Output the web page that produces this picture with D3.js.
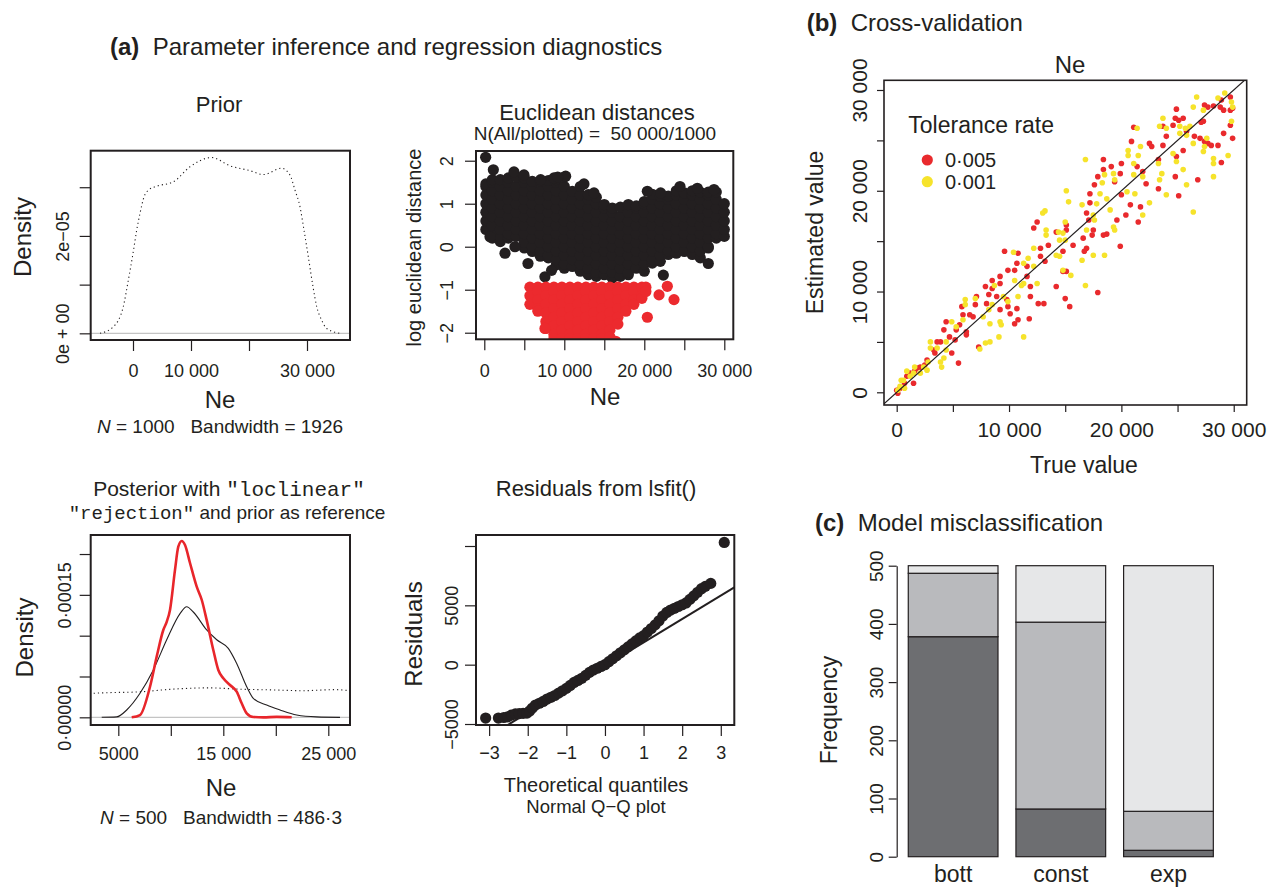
<!DOCTYPE html>
<html><head><meta charset="utf-8">
<script src="https://cdn.jsdelivr.net/npm/d3@7"></script>
<style>
body{margin:0;background:#fff;}
svg{display:block;}
text{fill:#231f20;white-space:pre;}
</style></head><body>
<svg id="chart" width="1276" height="889"></svg>
<script>
// ===================== DATA =====================
// (a) Prior density of Ne
const priorNe = [-5690,-3390,-1670,-810,0,640,1200,1900,2640,4080,6950,9830,13560,16720,20170,22470,25630,27070,27930,28790,29480,30230,31030,31670,32530,33390,35690];
const priorDensity = [0,0.135e-5,0.55e-5,1.09e-5,1.64e-5,2.12e-5,2.46e-5,2.8e-5,2.94e-5,3.02e-5,3.11e-5,3.42e-5,3.61e-5,3.44e-5,3.34e-5,3.26e-5,3.39e-5,3.25e-5,2.94e-5,2.6e-5,2.12e-5,1.57e-5,0.96e-5,0.55e-5,0.27e-5,0.1e-5,0];
const priorXTicks = [0,10000,20000,30000];
const priorXLabels = ["0","10 000","","30 000"];
const priorYTicks = [0,1e-5,2e-5,3e-5];
const priorYLabels = ["0e + 00","","2e\u221205",""];

// (a) Euclidean distances: black = all simulations plotted, red = accepted (columns: Ne, list of log distances)
const eucBlackCols = [
 [200,[0.40,0.60,0.80,1.00,1.20,1.40,1.46]],
 [1000,[0.20,0.30,0.50,0.70,0.90,1.10,1.30,1.50,1.56]],
 [2000,[0.12,0.20,0.40,0.60,0.80,1.00,1.20,1.40,1.56]],
 [3000,[0.20,0.30,0.50,0.70,0.90,1.10,1.30,1.50,1.60]],
 [4000,[0.24,0.40,0.60,0.80,1.00,1.20,1.40,1.62]],
 [5000,[-0.03,0.10,0.30,0.50,0.70,0.90,1.10,1.30,1.50,1.60]],
 [6000,[-0.11,0.00,0.20,0.40,0.60,0.80,1.00,1.20,1.40,1.52]],
 [7000,[-0.22,-0.10,0.10,0.30,0.50,0.70,0.90,1.10,1.30,1.52]],
 [8000,[-0.26,-0.20,0.00,0.20,0.40,0.60,0.80,1.00,1.20,1.40,1.54]],
 [9000,[-0.42,-0.30,-0.10,0.10,0.30,0.50,0.70,0.90,1.10,1.30,1.50,1.56]],
 [10000,[-0.50,-0.40,-0.20,0.00,0.20,0.40,0.60,0.80,1.00,1.20,1.40,1.62]],
 [11000,[-0.46,-0.30,-0.10,0.10,0.30,0.50,0.70,0.90,1.10,1.29]],
 [12000,[-0.57,-0.40,-0.20,0.00,0.20,0.40,0.60,0.80,1.00,1.20,1.40]],
 [13000,[-0.65,-0.50,-0.30,-0.10,0.10,0.30,0.50,0.70,0.90,1.10,1.21]],
 [14000,[-0.69,-0.60,-0.40,-0.20,0.00,0.20,0.40,0.60,0.80,1.00,1.15]],
 [15000,[-0.65,-0.50,-0.30,-0.10,0.10,0.30,0.50,0.70,0.90,0.98]],
 [16000,[-0.73,-0.60,-0.40,-0.20,0.00,0.20,0.40,0.60,0.80,0.90]],
 [17000,[-0.69,-0.50,-0.30,-0.10,0.10,0.30,0.50,0.70,0.92]],
 [18000,[-0.65,-0.60,-0.40,-0.20,0.00,0.20,0.40,0.60,0.80,0.98]],
 [19000,[-0.50,-0.30,-0.10,0.10,0.30,0.50,0.70,0.90,0.95]],
 [20000,[-0.57,-0.40,-0.20,0.00,0.20,0.40,0.60,0.80,1.00,1.05]],
 [21000,[-0.38,-0.30,-0.10,0.10,0.30,0.50,0.70,0.90,1.10,1.22]],
 [22000,[-0.34,-0.20,0.00,0.20,0.40,0.60,0.80,1.00,1.17]],
 [23000,[-0.18,-0.10,0.10,0.30,0.50,0.70,0.90,1.10,1.18]],
 [24000,[-0.15,0.00,0.20,0.40,0.60,0.80,1.00,1.20,1.30]],
 [25000,[-0.11,0.10,0.30,0.50,0.70,0.90,1.10,1.25]],
 [26000,[-0.18,0.00,0.20,0.40,0.60,0.80,1.00,1.20,1.30]],
 [27000,[-0.26,-0.10,0.10,0.30,0.50,0.70,0.90,1.10,1.27]],
 [28000,[-0.03,0.00,0.20,0.40,0.60,0.80,1.00,1.20,1.27]],
 [29000,[0.20,0.30,0.50,0.70,0.90,1.10,1.27]],
 [30000,[0.24,0.40,0.60,0.80,1.00]]
];
const eucBlackExtra = [[170,2.08],[1130,1.79],[710,0.23],[2590,-0.15],[3830,0.0],[3710,1.74],[4960,1.67],[7040,1.56],[8710,1.60],[10170,1.64],[5460,-0.39],[7580,-0.70],[8410,-0.55],[9170,1.62],[12460,1.46],[13710,1.25],[20380,1.29],[22040,1.25],[22380,-0.66],[24460,1.40],[26630,1.36],[28710,1.33],[28000,-0.39]];
const eucRedCols = [
 [5700,[-0.94,-1.14,-1.34]],
 [6700,[-0.94,-1.04,-1.24,-1.44,-1.50]],
 [7700,[-0.94,-1.14,-1.34,-1.54,-1.74,-1.90]],
 [8700,[-0.94,-1.04,-1.24,-1.44,-1.64,-1.84,-2.04,-2.14]],
 [9700,[-0.94,-1.14,-1.34,-1.54,-1.74,-1.94,-2.14]],
 [10700,[-0.94,-1.04,-1.24,-1.44,-1.64,-1.84,-2.04,-2.14]],
 [11700,[-0.94,-1.14,-1.34,-1.54,-1.74,-1.94,-2.14]],
 [12700,[-0.94,-1.04,-1.24,-1.44,-1.64,-1.84,-2.04,-2.14]],
 [13700,[-0.94,-1.14,-1.34,-1.54,-1.74,-1.94,-2.14]],
 [14700,[-0.94,-1.04,-1.24,-1.44,-1.64,-1.84,-2.04,-2.14]],
 [15700,[-0.94,-1.14,-1.34,-1.54,-1.74,-1.94,-2.10]],
 [16700,[-0.94,-1.04,-1.24,-1.44,-1.64,-1.80]],
 [17700,[-0.94,-1.14,-1.34,-1.50]],
 [18700,[-0.94,-1.04,-1.24,-1.34]],
 [19700,[-0.94,-1.14,-1.20]],
 [20200,[-0.94,-1.04]]
];
const eucRedExtra = [[7580,-1.90],[16430,-2.20],[20380,-1.64],[21840,-1.12],[22880,-0.92],[23710,-1.23]];
const eucXTicks = [0,5000,10000,15000,20000,25000,30000];
const eucXLabels = ["0","","10 000","","20 000","","30 000"];
const eucYTicks = [-2,-1,0,1,2];
const eucYLabels = ["\u22122","\u22121","0","1","2"];

// (a) Posterior densities
const postLocNe = [3419,4848,5800,7067,8333,9610,10876,11514,12143,13419,14371,15476,16276,17229,17857,19133,20400,21990,23895,26114];
const postLocDensity = [0,0.05e-5,0.9e-5,2.94e-5,5.8e-5,9.5e-5,12.7e-5,13.55e-5,12.9e-5,10.7e-5,9.5e-5,8.45e-5,6.6e-5,3.75e-5,2.33e-5,1.5e-5,0.9e-5,0.28e-5,0.05e-5,0];
const postRejNe = [6276,7067,8019,8657,9286,9610,9924,10400,10714,11038,11352,11829,12467,12943,13419,14048,14524,15000,15638,16276,16752,17229,17857,18810,20086,21514];
const postRejDensity = [0,0.28e-5,3.75e-5,7.43e-5,10.7e-5,11.7e-5,13.15e-5,18.05e-5,20.9e-5,21.6e-5,21.1e-5,18.9e-5,16.0e-5,14.4e-5,11.9e-5,8.25e-5,5.8e-5,4.78e-5,3.96e-5,3.14e-5,1.72e-5,0.49e-5,0.04e-5,0,0.05e-5,0];
const postXTicks = [5000,10000,15000,20000,25000];
const postXLabels = ["5000","","15 000","","25 000"];
const postYTicks = [0,5e-5,10e-5,15e-5,20e-5];
const postYLabels = ["0\u00b700000","","","0\u00b700015",""];

// (a) Residuals Q-Q
const qqTheoretical = [-3.09,-2.76,-2.62,-2.52,-2.42,-2.32,-2.22,-2.12,-2.02,-1.95,-1.88,-1.80,-1.70,-1.60,-1.50,-1.40,-1.30,-1.20,-1.10,-1.00,-0.90,-0.80,-0.70,-0.60,-0.50,-0.40,-0.30,-0.20,-0.10,0.00,0.10,0.20,0.30,0.40,0.50,0.60,0.70,0.80,0.90,1.00,1.10,1.20,1.30,1.40,1.50,1.60,1.70,1.80,1.90,2.00,2.10,2.20,2.30,2.40,2.50,2.60,2.74,3.09];
const qqResidual = [-4500,-4500,-4450,-4400,-4250,-4150,-4120,-4100,-4080,-3900,-3650,-3400,-3250,-3100,-2900,-2750,-2600,-2400,-2200,-2000,-1750,-1500,-1330,-1150,-900,-650,-450,-300,-150,0,250,500,750,1000,1250,1500,1750,2000,2250,2450,2750,3050,3350,3700,4100,4400,4600,4750,4900,5050,5200,5500,5800,6100,6400,6600,6850,10300];
const qqLineIntercept = -104, qqLineSlope = 1976;
const qqXTicks = [-3,-2,-1,0,1,2,3];
const qqXLabels = ["\u22123","\u22122","\u22121","0","1","2","3"];
const qqYTicks = [-5000,0,5000,10000];
const qqYLabels = ["\u22125000","0","5000",""];

// (b) Cross-validation (values in thousands): [true, estimated]
const cvTol005 = [
[24.9,28.1],[24.8,27.2],[25.1,27.0],[25.5,27.2],[24.6,26.5],[23.7,26.4],[24.0,25.4],[23.7,24.5],[22.5,24.7],[22.7,24.4],[21.1,26.3],[20.9,24.9],[25.5,24.0],[24.9,23.4],[23.3,23.1],[27.0,25.2],[27.3,26.9],[27.4,28.5],[27.7,28.3],[28.2,28.4],[28.8,28.3],[29.1,28.0],[29.7,28.0],[29.9,28.2],[29.7,29.3],[28.9,29.0],[29.1,25.7],[29.9,25.2],[28.6,24.5],[28.0,24.5],[27.7,24.7],[27.4,24.9],[28.9,22.8],[29.7,26.5],[27.1,26.8],[25.8,25.9],[26.5,25.4],
[24.8,21.4],[25.1,19.5],[23.3,20.2],[22.2,20.7],[21.9,21.9],[21.4,22.4],[20.0,22.7],[19.9,21.7],[19.1,22.4],[18.4,23.1],[18.4,22.1],[17.9,21.4],[17.2,19.7],[17.6,20.6],[19.4,20.9],[20.0,19.6],[20.8,18.6],[20.4,17.6],[21.5,16.9],[21.7,18.4],[26.8,21.1],[19.6,17.1],[18.7,15.7],[18.4,15.6],[17.5,16.1],[17.4,15.6],[16.9,17.8],[17.2,18.8],[17.1,17.1],[16.6,15.3],[16.9,14.3],[16.7,14.0],[19.9,14.5],[17.9,9.9],[15.7,14.6],[15.1,16.1],[15.1,16.6],[14.2,15.9],[15.1,12.0],[14.8,12.0],[15.0,9.3],[15.4,8.5],[14.2,10.5],[14.8,14.0],[13.5,14.6],[13.2,13.0],[12.8,14.3],[12.5,16.9],[12.2,16.3],[12.8,13.5],
[11.6,12.5],[11.6,11.5],[11.9,10.5],[11.9,9.5],[11.8,7.3],[12.6,8.8],[13.1,8.8],[10.8,13.8],[10.7,12.8],[10.5,12.1],[9.9,12.1],[9.6,14.0],[9.2,11.5],[9.2,10.8],[9.8,9.2],[9.9,8.5],[10.1,7.8],[10.7,8.3],[10.5,6.8],[10.8,7.2],[9.2,8.2],[8.9,9.5],[8.5,11.1],[8.5,10.3],[8.2,9.7],[7.9,10.5],[8.0,8.8],[7.1,9.5],[7.0,8.7],[6.5,7.7],[6.8,7.5],[5.9,7.7],[5.8,8.5],[5.6,6.7],[6.2,6.0],[6.2,5.7],[5.5,2.9],[7.3,4.5],[5.3,6.2],[5.2,5.2],[4.9,3.9],[4.7,5.5],[4.4,7.0],[4.2,6.2],[3.9,5.0],[3.6,5.0],[3.4,3.9],[3.3,4.2],[2.7,3.2],[2.5,2.7],[2.1,2.5],[1.8,2.4],[1.6,2.1],[1.2,1.9],[0.9,1.6],[0.7,0.9],[0.3,0.4],[0.1,-0.1],[0.0,0.2],[1.5,0.9]
];
const cvTol001 = [
[26.7,29.3],[26.4,28.3],[27.3,28.0],[28.6,29.2],[29.2,29.7],[29.8,28.8],[29.9,28.3],[29.8,26.9],[29.5,23.5],[28.2,23.2],[28.2,22.7],[28.2,21.4],[27.6,25.2],[27.4,24.4],[27.3,23.9],[26.4,24.7],[25.8,25.5],[26.1,26.4],[25.7,26.2],[25.2,26.4],[25.2,25.7],[23.7,27.2],[23.4,26.4],[24.0,26.2],[24.6,23.7],[24.9,22.9],[25.5,22.1],[25.8,20.6],[26.4,17.9],[24.0,19.6],[23.4,21.1],[23.6,21.7],[23.3,22.7],[22.5,18.8],[21.9,17.6],[21.5,23.5],[21.7,24.4],[21.4,26.2],[20.6,24.0],[20.6,23.5],[21.1,22.7],[21.1,21.6],[21.9,21.4],[21.2,19.7],[20.5,19.9],
[19.4,21.1],[19.3,21.7],[18.5,21.6],[18.3,20.8],[18.7,19.2],[19.0,18.1],[19.3,16.4],[19.4,16.1],[18.1,19.7],[17.8,18.7],[17.5,17.6],[17.6,17.1],[16.8,23.1],[16.5,18.6],[16.9,16.1],[17.5,13.6],[18.5,13.6],[16.8,10.6],[16.5,13.1],[15.1,20.0],[15.3,18.9],[15.0,16.9],[14.8,15.8],[14.4,15.9],[14.5,15.1],[15.0,15.1],[14.5,13.5],[14.2,13.6],[15.5,11.6],[14.8,12.1],[13.3,16.1],[13.3,15.6],[13.0,17.8],[13.2,18.0],[12.2,14.3],[12.2,12.5],[12.5,10.8],[11.7,13.3],[11.3,12.8],[11.3,10.8],[11.1,10.6],[10.8,9.5],[11.3,5.5],[10.5,11.1],[9.9,9.0],[9.5,9.5],[9.2,7.0],[9.3,6.7],[9.1,5.5],[10.4,13.9],
[8.7,10.6],[8.5,8.7],[8.3,6.8],[8.2,8.2],[7.7,7.5],[7.9,4.9],[8.3,5.0],[7.4,4.3],[7.0,9.3],[6.1,9.2],[6.1,8.7],[5.9,7.2],[5.3,6.5],[4.9,7.0],[4.4,5.0],[4.4,4.2],[4.2,3.4],[3.9,3.0],[4.0,2.5],[3.6,4.4],[3.0,5.0],[3.0,4.4],[2.8,3.0],[2.7,2.2],[2.4,2.5],[2.1,1.9],[1.6,2.5],[1.5,1.9],[1.2,1.6],[0.9,2.1],[0.6,1.2],[0.4,1.2],[0.3,0.6],[0.7,0.4],[0.1,0.2]
];
const cvTicks = [0,5,10,15,20,25,30];
const cvLabels = ["0","","10 000","","20 000","","30 000"];
const cvLegend = ["0\u00b7005","0\u00b7001"];

// (c) Model misclassification
const barCategories = ["bott","const","exp"];
const barPredBott = [378,82,11];
const barPredConst = [109,321,67];
const barPredExp = [13,97,422];
const barTicks = [0,100,200,300,400,500];

// ===================== DRAWING =====================
const FONT = '"Liberation Sans", Arial, Helvetica, sans-serif';
const MONO = '"Liberation Mono", "Courier New", monospace';
const INK = "#231f20";
const svg = d3.select("#chart").attr("font-family", FONT);

let clipN = 0;
function clip(x0, x1, y0, y1) {
  const id = "clip" + (clipN++);
  svg.append("clipPath").attr("id", id).append("rect")
    .attr("x", x0).attr("y", y0).attr("width", x1 - x0).attr("height", y1 - y0);
  return `url(#${id})`;
}
function frame(x0, x1, y0, y1, w) {
  svg.append("rect").attr("x", x0).attr("y", y0).attr("width", x1 - x0).attr("height", y1 - y0)
    .attr("fill", "none").attr("stroke", INK).attr("stroke-width", w);
}
function text(x, y, t, fs, anchor = "middle", rot = false) {
  const el = svg.append("text").attr("font-size", fs).attr("text-anchor", anchor).attr("fill", INK);
  if (rot) el.attr("transform", `translate(${x},${y}) rotate(-90)`);
  else el.attr("x", x).attr("y", y);
  el.text(t);
  return el;
}
function xAxis(scale, y, ticks, labels, fs, off, len) {
  const ax = d3.axisBottom(scale).tickValues(ticks).tickFormat((d, i) => labels[i]).tickSize(len).tickSizeOuter(0);
  const a = svg.append("g").attr("transform", `translate(0,${y})`).call(ax)
    .attr("font-family", FONT).attr("font-size", fs);
  a.select(".domain").remove();
  a.selectAll(".tick line").attr("stroke", INK).attr("stroke-width", 1.2);
  a.selectAll(".tick text").attr("y", off).attr("dy", 0).attr("fill", INK);
  return a;
}
function yAxis(scale, x, ticks, labels, fs, off, len, keepDomain) {
  const ax = d3.axisLeft(scale).tickValues(ticks).tickFormat((d, i) => labels[i]).tickSize(len).tickSizeOuter(0);
  const a = svg.append("g").attr("transform", `translate(${x},0)`).call(ax)
    .attr("font-family", FONT).attr("font-size", fs);
  if (!keepDomain) a.select(".domain").remove();
  else a.select(".domain").attr("stroke", INK).attr("stroke-width", 1.2);
  a.selectAll(".tick line").attr("stroke", INK).attr("stroke-width", 1.2);
  a.selectAll(".tick text").attr("transform", "rotate(-90)").attr("x", 0).attr("y", -off)
    .attr("dy", 0).attr("text-anchor", "middle").attr("fill", INK);
  return a;
}

// ---- Headings ----
function heading(x, y, tag, title) {
  const t = svg.append("text").attr("x", x).attr("y", y).attr("font-size", 24).attr("fill", INK);
  t.append("tspan").attr("font-weight", "bold").text(tag);
  t.append("tspan").text("  " + title);
}
heading(110, 55, "(a)", "Parameter inference and regression diagnostics");
heading(806.7, 31, "(b)", "Cross-validation");
heading(815, 531, "(c)", "Model misclassification");

// ---- Prior panel ----
{
  const x0 = 90.7, x1 = 350, y0 = 150.7, y1 = 340;
  const x = d3.scaleLinear().domain([-7293, 37414]).range([x0, x1]);
  const y = d3.scaleLinear().domain([-0.137e-5, 3.75e-5]).range([y1, y0]);
  const cp = clip(x0, x1, y0, y1);
  const g = svg.append("g").attr("clip-path", cp);
  g.append("line").attr("x1", x0).attr("x2", x1).attr("y1", y(0)).attr("y2", y(0))
    .attr("stroke", "#c4c4c4").attr("stroke-width", 1.2);
  const line = d3.line().x(i => x(priorNe[i])).y(i => y(priorDensity[i])).curve(d3.curveMonotoneX);
  g.append("path").attr("d", line(d3.range(priorNe.length))).attr("fill", "none")
    .attr("stroke", INK).attr("stroke-width", 1.1).attr("stroke-dasharray", "1.2,3");
  frame(x0, x1, y0, y1, 2);
  xAxis(x, y1, priorXTicks, priorXLabels, 18, 36.7, 11);
  yAxis(y, x0, priorYTicks, priorYLabels, 18, 21.7, 11);
  text(219, 112.3, "Prior", 22);
  text(220, 408, "Ne", 24);
  const s = text(220, 433.3, "", 19);
  s.append("tspan").attr("font-style", "italic").text("N");
  s.append("tspan").text(" = 1000   Bandwidth = 1926");
  text(31, 237, "Density", 24, "middle", true);
}

// ---- Euclidean distances panel ----
{
  const x0 = 476, x1 = 733.3, y0 = 151, y1 = 339.3;
  const x = d3.scaleLinear().domain([-1037, 31125]).range([x0, x1]);
  const y = d3.scaleLinear().domain([-2.153, 2.226]).range([y1, y0]);
  const cp = clip(x0, x1, y0, y1);
  const g = svg.append("g").attr("clip-path", cp);
  const flat = cols => cols.flatMap(([ne, ys]) => ys.map(v => [ne, v]));
  const black = flat(eucBlackCols).concat(eucBlackExtra);
  const red = flat(eucRedCols).concat(eucRedExtra);
  g.selectAll(".bk").data(black).join("circle").attr("cx", d => x(d[0])).attr("cy", d => y(d[1]))
    .attr("r", 5.6).attr("fill", "#231f20");
  g.selectAll(".rd").data(red).join("circle").attr("cx", d => x(d[0])).attr("cy", d => y(d[1]))
    .attr("r", 5.6).attr("fill", "#ec2a2e");
  frame(x0, x1, y0, y1, 2);
  xAxis(x, y1, eucXTicks, eucXLabels, 18, 37.4, 11);
  yAxis(y, x0, eucYTicks, eucYLabels, 18, 22.7, 11);
  text(597, 120, "Euclidean distances", 22);
  text(595, 140, "N(All/plotted) =  50 000/1000", 19);
  text(605, 405, "Ne", 24);
  text(421.3, 247.5, "log euclidean distance", 20, "middle", true);
}

// ---- Posterior panel ----
{
  const x0 = 90.7, x1 = 350, y0 = 535, y1 = 725;
  const x = d3.scaleLinear().domain([2371, 27067]).range([x0, x1]);
  const y = d3.scaleLinear().domain([-0.94e-5, 22.33e-5]).range([y1, y0]);
  const cp = clip(x0, x1, y0, y1);
  const g = svg.append("g").attr("clip-path", cp);
  g.append("line").attr("x1", x0).attr("x2", x1).attr("y1", y(0)).attr("y2", y(0))
    .attr("stroke", "#c4c4c4").attr("stroke-width", 1.2);
  const mk = (xs, ys) => d3.line().x(i => x(xs[i])).y(i => y(ys[i])).curve(d3.curveMonotoneX)(d3.range(xs.length));
  g.append("path").attr("d", mk(priorNe, priorDensity)).attr("fill", "none")
    .attr("stroke", INK).attr("stroke-width", 1.1).attr("stroke-dasharray", "1.2,3");
  g.append("path").attr("d", mk(postLocNe, postLocDensity)).attr("fill", "none")
    .attr("stroke", INK).attr("stroke-width", 1.1);
  g.append("path").attr("d", mk(postRejNe, postRejDensity)).attr("fill", "none")
    .attr("stroke", "#e8262b").attr("stroke-width", 2.6);
  frame(x0, x1, y0, y1, 2);
  xAxis(x, y1, postXTicks, postXLabels, 18, 35, 11);
  yAxis(y, x0, postYTicks, postYLabels, 18, 19.5, 11);
  const t1 = text(229, 496, "", 21);
  t1.append("tspan").text("Posterior with ");
  t1.append("tspan").attr("font-family", MONO).text('"loclinear"');
  const t2 = text(227, 518.5, "", 19);
  t2.append("tspan").attr("font-family", MONO).text('"rejection"');
  t2.append("tspan").text(" and prior as reference");
  text(221, 796, "Ne", 24);
  const s = text(221, 824, "", 19);
  s.append("tspan").attr("font-style", "italic").text("N");
  s.append("tspan").text(" = 500   Bandwidth = 486\u00b73");
  text(33, 637.5, "Density", 24, "middle", true);
}

// ---- Residuals Q-Q panel ----
{
  const x0 = 476, x1 = 734.3, y0 = 535, y1 = 725;
  const x = d3.scaleLinear().domain([-3.34, 3.35]).range([x0, x1]);
  const y = d3.scaleLinear().domain([-5084, 10927]).range([y1, y0]);
  const cp = clip(x0, x1, y0, y1);
  const g = svg.append("g").attr("clip-path", cp);
  const ld = x.domain();
  g.append("line").attr("x1", x(ld[0])).attr("x2", x(ld[1]))
    .attr("y1", y(qqLineIntercept + qqLineSlope * ld[0])).attr("y2", y(qqLineIntercept + qqLineSlope * ld[1]))
    .attr("stroke", INK).attr("stroke-width", 2);
  g.selectAll(".qq").data(d3.range(qqTheoretical.length)).join("circle")
    .attr("cx", i => x(qqTheoretical[i])).attr("cy", i => y(qqResidual[i])).attr("r", 5.6).attr("fill", "#231f20");
  frame(x0, x1, y0, y1, 2);
  xAxis(x, y1, qqXTicks, qqXLabels, 18, 34.3, 11);
  yAxis(y, x0, qqYTicks, qqYLabels, 18, 18.5, 11);
  text(596, 496, "Residuals from lsfit()", 22);
  text(596, 791.7, "Theoretical quantiles", 20);
  text(596, 813.3, "Normal Q\u2212Q plot", 18.5);
  text(421.7, 634, "Residuals", 24, "middle", true);
}

// ---- Cross-validation panel ----
{
  const x0 = 884, x1 = 1246.7, y0 = 80.3, y1 = 405;
  const x = d3.scaleLinear().domain([-1.13, 31.155]).range([x0, x1]);
  const y = d3.scaleLinear().domain([-1.26, 30.962]).range([y1, y0]);
  const cp = clip(x0, x1, y0, y1);
  const g = svg.append("g").attr("clip-path", cp);
  g.selectAll(".r").data(cvTol005).join("circle").attr("cx", d => x(d[0])).attr("cy", d => y(d[1]))
    .attr("r", 2.8).attr("fill", "#e92a2d");
  g.selectAll(".yl").data(cvTol001).join("circle").attr("cx", d => x(d[0])).attr("cy", d => y(d[1]))
    .attr("r", 2.8).attr("fill", "#f6e32b");
  const dd = x.domain();
  g.append("line").attr("x1", x(dd[0])).attr("y1", y(dd[0])).attr("x2", x(dd[1])).attr("y2", y(dd[1]))
    .attr("stroke", INK).attr("stroke-width", 1.2);
  frame(x0, x1, y0, y1, 1.6);
  xAxis(x, y1, cvTicks, cvLabels, 21, 31.7, 7);
  yAxis(y, x0, cvTicks, cvLabels, 21, 17.3, 7);
  text(1070, 72.7, "Ne", 24);
  text(1084, 473.3, "True value", 23);
  text(823.3, 232.5, "Estimated value", 23, "middle", true);
  text(908.3, 132.7, "Tolerance rate", 23, "start");
  const cols = ["#e92a2d", "#f6e32b"];
  cvLegend.forEach((lab, i) => {
    svg.append("circle").attr("cx", 927.3).attr("cy", 160 + i * 21.7).attr("r", 5.6).attr("fill", cols[i]);
    text(945, 167 + i * 21.7, lab, 20, "start");
  });
}

// ---- Model misclassification bars ----
{
  const y = d3.scaleLinear().domain([0, 500]).range([856.7, 565.7]);
  const x = d3.scaleBand().domain(barCategories).range([899.3, 1222.3]).paddingInner(1 / 6).paddingOuter(1 / 12);
  const rows = barCategories.map((c, i) => ({ cat: c, bott: barPredBott[i], const: barPredConst[i], exp: barPredExp[i] }));
  const series = d3.stack().keys(["bott", "const", "exp"])(rows);
  const fills = ["#6d6e71", "#b9babd", "#e6e7e8"];
  series.forEach((s, k) => {
    svg.selectAll(".b" + k).data(s).join("rect")
      .attr("x", d => x(d.data.cat)).attr("width", x.bandwidth())
      .attr("y", d => y(d[1])).attr("height", d => y(d[0]) - y(d[1]))
      .attr("fill", fills[k]).attr("stroke", INK).attr("stroke-width", 1.2);
  });
  yAxis(y, 896.7, barTicks, barTicks.map(String), 19, 13.4, 8, true);
  barCategories.forEach(c => text(x(c) + x.bandwidth() / 2, 881.7, c, 23));
  text(837.3, 710, "Frequency", 23, "middle", true);
}
</script>
</body></html>
